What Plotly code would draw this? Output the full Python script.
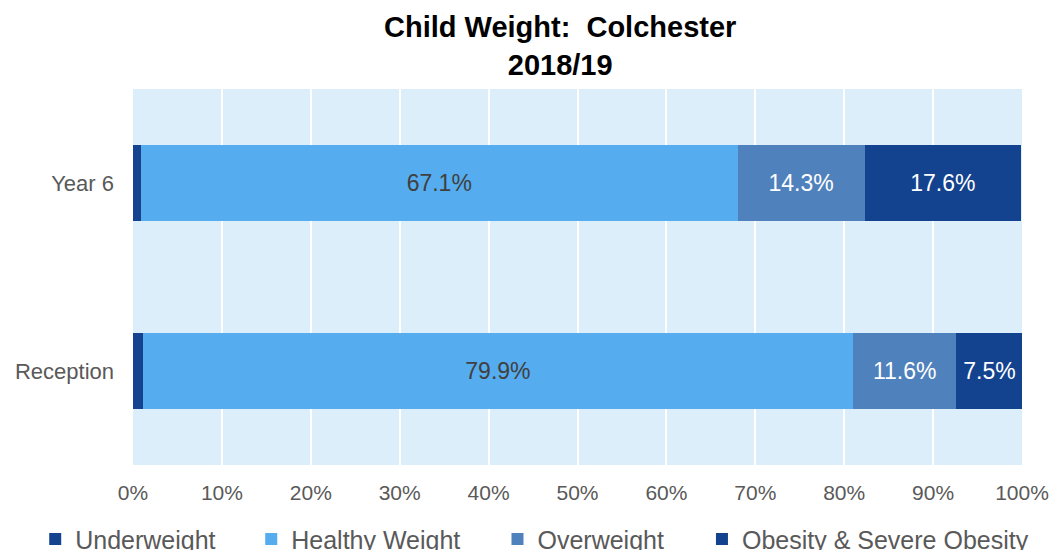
import plotly.graph_objects as go

# Child weight categories, Colchester 2018/19 (% of children measured)
groups = ["Reception", "Year 6"]
categories = ["Underweight", "Healthy Weight", "Overweight", "Obesity & Severe Obesity"]
underweight = [1.1, 0.9]
healthy = [79.9, 67.1]
overweight = [11.6, 14.3]
obese = [7.5, 17.6]
x_ticks = [0, 10, 20, 30, 40, 50, 60, 70, 80, 90, 100]

series = [underweight, healthy, overweight, obese]
colors = ["#15438F", "#55ACEE", "#4F81BD", "#13428F"]
label_colors = [None, "#404040", "#FFFFFF", "#FFFFFF"]
legend_ids = ["legend", "legend2", "legend3", "legend4"]
legend_x = [-0.110, 0.133, 0.410, 0.640]

FONT = "Liberation Sans, Arial, sans-serif"

fig = go.Figure()
for name, vals, col, lc, lg in zip(categories, series, colors, label_colors, legend_ids):
    fig.add_trace(go.Bar(
        y=groups,
        x=vals,
        name=name,
        orientation="h",
        legend=lg,
        showlegend=True,
        marker=dict(color=col, line=dict(width=0)),
        text=[f"{v:.1f}%" for v in vals] if lc else None,
        textposition="inside" if lc else "none",
        insidetextanchor="middle",
        textangle=0,
        constraintext="none",
        textfont=dict(family=FONT, size=23, color=lc or "#FFFFFF"),
        hovertemplate="%{y}: %{x:.1f}%<extra>" + name + "</extra>",
    ))

legend_style = dict(
    orientation="h",
    xanchor="left",
    y=-0.136, yanchor="top",
    font=dict(family=FONT, size=25, color="#595959"),
    bgcolor="rgba(0,0,0,0)",
)

layout_legends = {lg: dict(legend_style, x=lx) for lg, lx in zip(legend_ids, legend_x)}

fig.update_layout(
    width=1051,
    height=550,
    showlegend=True,
    barmode="stack",
    bargap=0.6,
    paper_bgcolor="#FFFFFF",
    plot_bgcolor="#DDEEFB",
    margin=dict(l=133, r=29, t=89, b=85, autoexpand=False),
    title=dict(
        text="<b>Child Weight:  Colchester<br>2018/19</b>",
        font=dict(family=FONT, size=29, color="#000000"),
        x=0.533, xanchor="center",
        y=0.932, yref="container", yanchor="middle",
    ),
    xaxis=dict(
        range=[0, 100],
        tickvals=x_ticks,
        ticktext=[f"{t}%" for t in x_ticks],
        showgrid=True,
        gridcolor="#FFFFFF",
        gridwidth=2,
        zeroline=False,
        showline=False,
        ticks="",
        ticklabelstandoff=13,
        tickfont=dict(family=FONT, size=21, color="#595959"),
    ),
    yaxis=dict(
        categoryorder="array",
        categoryarray=groups,
        showgrid=False,
        zeroline=False,
        ticks="",
        ticklabelstandoff=18,
        tickfont=dict(family=FONT, size=22, color="#595959"),
    ),
    **layout_legends,
)

fig.write_html("out.html")
